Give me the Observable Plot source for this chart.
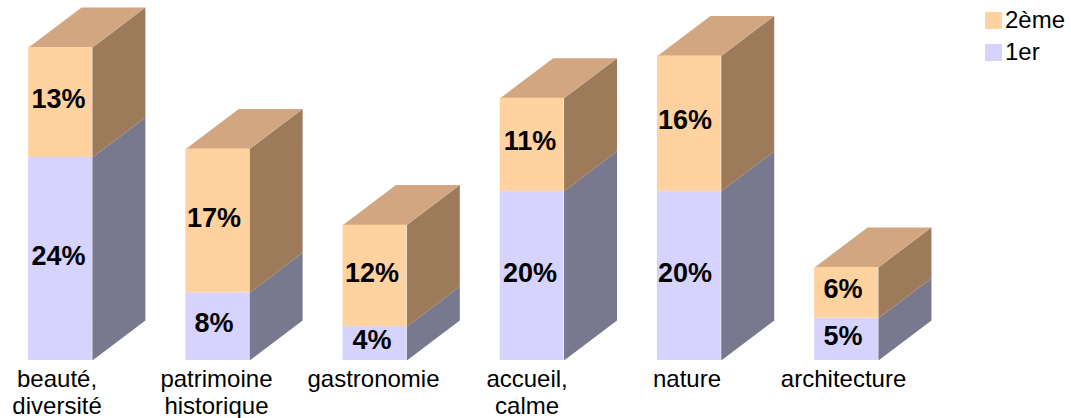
<!DOCTYPE html>
<html lang="fr">
<head>
<meta charset="utf-8">
<script src="https://cdn.jsdelivr.net/npm/d3@7"></script>
<script src="https://cdn.jsdelivr.net/npm/@observablehq/plot@0.6"></script>
<style>
  html, body { margin: 0; padding: 0; background: #fff; overflow: hidden; }
  #chart { position: relative; width: 1071px; height: 418px; font-family: "Liberation Sans", Arial, sans-serif; }
  #chart svg { display: block; }
  .legend { position: absolute; left: 985px; top: 4px; font-size: 24px; line-height: 32px; color: #000; }
  .legend div { display: flex; align-items: center; height: 32px; }
  .legend i { display: block; width: 17px; height: 17px; margin-right: 3px; }
</style>
</head>
<body>
<div id="chart"></div>
<script>
// Share of answers per theme, in percent
const themes = ["beauté,\ndiversité", "patrimoine\nhistorique", "gastronomie", "accueil,\ncalme", "nature", "architecture"];
const first = [24, 8, 4, 20, 20, 5];
const second = [13, 17, 12, 11, 16, 6];

// Small horizontal nudges for the hand-placed labels, in x scale units
const labelShift = [-0.022, -0.008, -0.009, -0.032, -0.015, -0.019];
const valueShift = [-0.013, -0.024, -0.018, -0.013, -0.027, -0.022];

const colors = {
  first: {front: "#d6d4ff", side: "#78788f"},
  second: {front: "#ffd2a0", side: "#9c7a5a", top: "#d1a680"}
};

// Box geometry, in scale units: half the front width and the receding offset
const half = 0.203;
const depthX = 0.337;
const depthY = 4.73;

const rows = themes.map((theme, i) => ({theme, i, first: first[i], second: second[i], total: first[i] + second[i]}));

// Parallelogram receding from the right edge of the front between two heights
const sideFace = (r, low, high) => [
  {i: r.i, x: r.i + half, y: low},
  {i: r.i, x: r.i + half + depthX, y: low + depthY},
  {i: r.i, x: r.i + half + depthX, y: high + depthY},
  {i: r.i, x: r.i + half, y: high}
];
const topFace = (r) => [
  {i: r.i, x: r.i - half, y: r.total},
  {i: r.i, x: r.i + half, y: r.total},
  {i: r.i, x: r.i + half + depthX, y: r.total + depthY},
  {i: r.i, x: r.i - half + depthX, y: r.total + depthY}
];

const face = (points, fill) => Plot.line(points, {x: "x", y: "y", z: "i", fill, stroke: null});
const valueText = (y, value) => Plot.text(rows, {
  x: (r) => r.i + valueShift[r.i],
  y,
  text: (r) => `${r[value]}%`,
  fontSize: 27,
  fontWeight: "bold",
  fill: "#000",
  dy: -3
});

const chart = Plot.plot({
  width: 1071,
  height: 418,
  margin: 0,
  style: {fontFamily: "'Liberation Sans', Arial, sans-serif", background: "transparent"},
  x: {domain: [-0.3817, 6.431], range: [0, 1071], axis: null},
  y: {domain: [-6.86, 42.55], range: [418, 0], axis: null},
  marks: [
    face(rows.flatMap((r) => sideFace(r, 0, r.first)), colors.first.side),
    face(rows.flatMap((r) => sideFace(r, r.first, r.total)), colors.second.side),
    face(rows.flatMap(topFace), colors.second.top),
    Plot.rect(rows, {x1: (r) => r.i - half, x2: (r) => r.i + half, y1: 0, y2: "first", fill: colors.first.front}),
    Plot.rect(rows, {x1: (r) => r.i - half, x2: (r) => r.i + half, y1: "first", y2: "total", fill: colors.second.front}),
    valueText((r) => r.first / 2, "first"),
    valueText((r) => r.first + r.second / 2, "second"),
    Plot.text(rows, {x: (r) => r.i + labelShift[r.i], y: 0, text: "theme", fontSize: 24, fill: "#000", lineAnchor: "top", lineHeight: 1.125, dy: 7})
  ]
});

const host = document.getElementById("chart");
host.appendChild(chart);

// Legend, stacked with the upper segment first
const legend = document.createElement("div");
legend.className = "legend";
legend.innerHTML = `<div><i style="background:${colors.second.front}"></i>2ème</div><div><i style="background:${colors.first.front}"></i>1er</div>`;
host.appendChild(legend);
</script>
</body>
</html>
